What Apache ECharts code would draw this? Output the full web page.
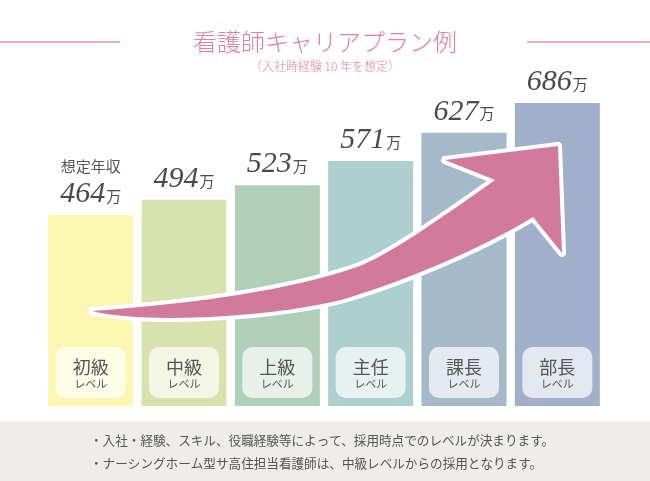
<!DOCTYPE html>
<html><head><meta charset="utf-8">
<script src="https://cdn.jsdelivr.net/npm/echarts@6/dist/echarts.min.js"></script>
<style>html,body{margin:0;padding:0;background:#fff}#c{width:650px;height:481px}</style>
</head><body><div id="c"></div>
<script>
const categories = ['初級', '中級', '上級', '主任', '課長', '部長'];
const salaries = [464, 494, 523, 571, 627, 686];
const levelSuffix = 'レベル';
const unit = '万';
const firstLabelPrefix = '想定年収';
const titleText = '看護師キャリアプラン例';
const subtitleText = '（入社時経験 10 年を想定）';
const notes = [
  '・入社・経験、スキル、役職経験等によって、採用時点でのレベルが決まります。',
  '・ナーシングホーム型サ高住担当看護師は、中級レベルからの採用となります。'
];
const barColors = ['#FBF7B2', '#D8E2AF', '#B0CFB8', '#ADCFD0', '#A4BAC9', '#A2AFCB'];

const JP = '"Noto Sans CJK JP", sans-serif';
const PINK = '#E27FA0';
const TEXT = '#555555';
const arrowPath = 'M92 311 C200 303 290 290 357 267 C387 256.7 450 212 495 180 L445 160 L558 146 L562 253 L533 217 C480 250 400 282 357 295 C300 315 150 326 92 311 Z';

const chart = echarts.init(document.getElementById('c'), null, {renderer: 'canvas'});
chart.setOption({
  animation: false,
  backgroundColor: '#ffffff',
  title: {
    text: titleText, subtext: subtitleText, left: 'center', top: 29, padding: 0, itemGap: 4,
    textStyle: {fontSize: 24, fontWeight: 300, color: PINK, fontFamily: JP, lineHeight: 26},
    subtextStyle: {fontSize: 12, fontWeight: 300, color: PINK, fontFamily: JP, lineHeight: 14}
  },
  grid: {left: 44, right: 46, top: 96, bottom: 75},
  xAxis: {type: 'category', data: categories, show: false},
  yAxis: {type: 'value', min: 85, max: 700, show: false},
  series: [
    {
      type: 'bar', barWidth: 85, silent: true, z: 2,
      data: salaries.map((v, i) => ({value: v, itemStyle: {color: barColors[i]}})),
      label: {
        show: true, position: 'top', distance: 6,
        formatter: p => (p.dataIndex === 0 ? '{t|' + firstLabelPrefix + '}\n' : '') + '{n|' + p.value + '}{u|' + unit + '}',
        rich: {
          t: {fontSize: 15, fontFamily: JP, color: TEXT, lineHeight: 26, align: 'center'},
          n: {fontSize: 30, fontFamily: '"Liberation Serif", serif', fontStyle: 'italic', color: '#4a4a4a', lineHeight: 30, align: 'center'},
          u: {fontSize: 15, fontFamily: JP, color: '#4a4a4a', lineHeight: 30, align: 'center', padding: [4, 0, 0, 1]}
        }
      }
    },
    {
      type: 'bar', barWidth: 85, barGap: '-100%', silent: true, z: 3,
      data: salaries,
      itemStyle: {color: 'rgba(0,0,0,0)'},
      label: {
        show: true, position: 'insideBottom', distance: 8,
        backgroundColor: 'rgba(255,255,255,0.7)', borderRadius: 10, width: 70, padding: [10, 0, 7, 0],
        textBorderWidth: 0,
        formatter: p => '{a|' + categories[p.dataIndex] + '}\n{b|' + levelSuffix + '}',
        rich: {
          a: {fontSize: 18, fontFamily: JP, color: TEXT, lineHeight: 20, align: 'center'},
          b: {fontSize: 11, fontFamily: JP, color: TEXT, lineHeight: 14, align: 'center'}
        }
      }
    },
    {
      type: 'custom', coordinateSystem: 'none', silent: true, z: 10,
      data: [0],
      renderItem: () => ({
        type: 'group',
        children: [
          {type: 'path', shape: {pathData: arrowPath}, style: {fill: '#ffffff', stroke: '#ffffff', lineWidth: 8, lineJoin: 'round'}},
          {type: 'path', shape: {pathData: arrowPath}, style: {fill: '#D27A9C'}}
        ]
      })
    }
  ],
  graphic: [
    {type: 'line', shape: {x1: 0, y1: 42, x2: 120, y2: 42}, style: {stroke: '#E68FAB', lineWidth: 1.5}, z: 10},
    {type: 'line', shape: {x1: 527, y1: 42, x2: 650, y2: 42}, style: {stroke: '#E68FAB', lineWidth: 1.5}, z: 10},
    {type: 'rect', shape: {x: 0, y: 421, width: 650, height: 60}, style: {fill: '#EFEDEA'}, z: 1},
    {type: 'text', x: 90, y: 440, style: {text: notes[0], fontSize: 12.6, fontFamily: JP, fill: TEXT, verticalAlign: 'middle', align: 'left'}, z: 10},
    {type: 'text', x: 90, y: 463, style: {text: notes[1], fontSize: 12.6, fontFamily: JP, fill: TEXT, verticalAlign: 'middle', align: 'left'}, z: 10}
  ]
});
</script>
</body></html>
